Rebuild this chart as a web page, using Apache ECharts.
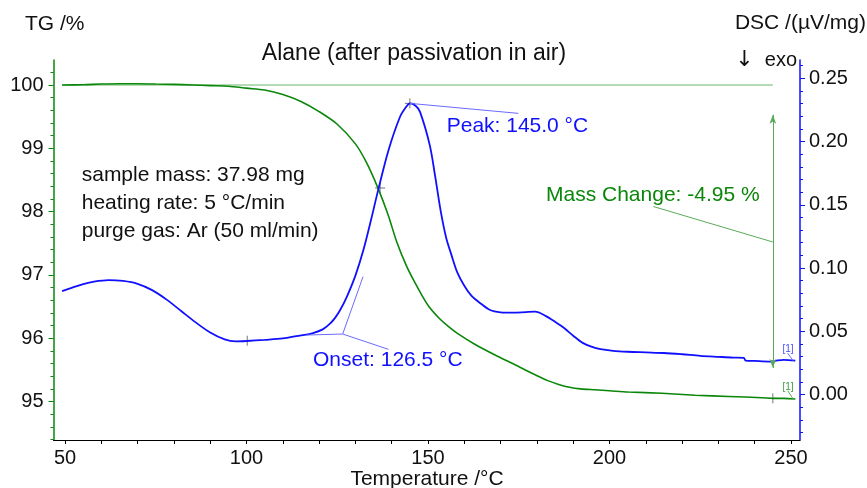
<!DOCTYPE html>
<html><head><meta charset="utf-8">
<script src="https://cdn.jsdelivr.net/npm/echarts@6/dist/echarts.min.js"></script>
<style>html,body{margin:0;padding:0;background:#fff}#c{width:867px;height:488px}</style>
</head><body><div id="c"></div>
<script>
// ---- data ----
const tgT = [49.2,55,60,65,70,75,80,85,90,95,100,105,110,115,120,125,130,133,136.3,139,141.4,144,146,148.3,150.5,153,155.5,158,163,169.3,174,178.5,183,186,189,192,196,200,205.2,214.4,223.6,232.8,242,245,248,251.2];
const tgV = [100.00,100.005,100.015,100.02,100.02,100.015,100.01,100.00,99.99,99.98,99.95,99.92,99.85,99.74,99.58,99.38,99.07,98.78,98.36,97.95,97.52,97.15,96.92,96.68,96.48,96.32,96.19,96.08,95.90,95.71,95.58,95.45,95.33,95.27,95.225,95.20,95.185,95.17,95.15,95.13,95.10,95.08,95.06,95.05,95.05,95.04];

const dscT = [49.2,52,55,58,62,66,70,74,78,82,86,90,94,97,100,105,110,114.7,118.3,121,123,124.5,125.8,127.6,130,132.2,134.3,136.3,139.1,142.3,144,145,146.5,147.8,150.5,152,153.5,155,156.5,158,160,162,164.5,167.1,170,173.5,177,179.5,182.5,185,187.5,190,192.5,195,197.5,201,205,210,215,220,225,230,234,237,237.5,240,244,246,248,251.2];
const dscV = [0.0818,0.0845,0.0873,0.0893,0.0905,0.0898,0.0875,0.0825,0.0750,0.0660,0.0570,0.0490,0.0435,0.0420,0.0423,0.0432,0.0443,0.0466,0.0486,0.0515,0.0560,0.0610,0.0668,0.0770,0.0940,0.1142,0.1380,0.1620,0.1930,0.2196,0.2275,0.2302,0.2285,0.2235,0.1970,0.1720,0.1450,0.1240,0.1100,0.0970,0.0860,0.0780,0.0720,0.0668,0.0650,0.0647,0.0652,0.0655,0.0620,0.0575,0.0525,0.0465,0.0410,0.0378,0.0358,0.0345,0.0338,0.0333,0.0328,0.0318,0.0306,0.0298,0.0292,0.0290,0.0268,0.0265,0.0260,0.0268,0.0273,0.0267];

const xTickLabels = [50,100,150,200,250];
const tgTickLabels = [95,96,97,98,99,100];
const dscTickLabels = [0.00,0.05,0.10,0.15,0.20,0.25];

// annotation values
const onsetT = 126.5, onsetV = 0.0478;
const onsetBaseline = [116.6,0.0470];
const onsetTangent = [132.1,0.0931];
const onsetLeaderEnd = [139.1,0.0357];
const peakT = 145.0, peakV = 0.2302;
const peakLeaderEnd = [174.9,0.2223];
const massStartT = 49.2, massEndT = 245.0, massRef = 100, massEnd = 95.05;
const massArrowTop = 99.53, massArrowBottom = 95.53;
const massLeader = [[212.1,98.08],[245.0,97.52]];
const dscMarks = [[100.2,0.0425],[136.8,0.1633],[145.0,0.2302]];
const tgMarks = [[245.0,95.05]];

// tick positions (minor)
const xMinor = []; for (let v = 50; v <= 250; v += 10) xMinor.push(v);
const tgMinor = []; for (let i = 0; i <= 30; i++) { const v = +(94.4 + i*0.2).toFixed(1); if (v <= 100.39 && v >= 94.4) tgMinor.push(v); }
const dscMinor = []; for (let i = -3; i <= 26; i++) dscMinor.push(+(i*0.01).toFixed(2));

const F = 'Liberation Sans, Arial, sans-serif';
const GREEN = '#0a870a', BLUE = '#1010ff';
const cross = 'path://M0,5L10,5M5,0L5,10';

const chart = echarts.init(document.getElementById('c'), null, {renderer:'canvas'});
const zip = (a,b) => a.map((t,i)=>[t,b[i]]);

chart.setOption({
  animation:false,
  grid:{left:53.5, right:67, top:60, bottom:48},
  xAxis:[{type:'value', min:46.83, max:252.48,
    axisLine:{onZero:false, lineStyle:{color:'#000', width:1}},
    axisTick:{customValues:xMinor, length:4, lineStyle:{color:'#000'}},
    axisLabel:{customValues:xTickLabels, fontSize:20, color:'#111', margin:8, fontFamily:F},
    splitLine:{show:false}}],
  yAxis:[
    {type:'value', position:'left', min:94.392, max:100.395,
     axisLine:{show:true, onZero:false, lineStyle:{color:GREEN, width:1.5}},
     axisTick:{customValues:tgTickLabels, length:5, lineStyle:{color:GREEN}},
     axisLabel:{customValues:tgTickLabels, fontSize:20, color:'#111', margin:10, fontFamily:F},
     splitLine:{show:false}},
    {type:'value', position:'right', min:-0.036, max:0.2645,
     axisLine:{show:true, onZero:false, lineStyle:{color:BLUE, width:1.5}},
     axisTick:{customValues:dscTickLabels, length:5, lineStyle:{color:BLUE}},
     axisLabel:{customValues:dscTickLabels, fontSize:20, color:'#111', margin:9, fontFamily:F,
       formatter:v=>v.toFixed(2)},
     splitLine:{show:false}},
    {type:'value', position:'left', min:94.392, max:100.395,
     axisLine:{show:false}, axisLabel:{show:false}, splitLine:{show:false},
     axisTick:{customValues:tgMinor, length:3, lineStyle:{color:GREEN}}},
    {type:'value', position:'right', min:-0.036, max:0.2645,
     axisLine:{show:false}, axisLabel:{show:false}, splitLine:{show:false},
     axisTick:{customValues:dscMinor, length:3, lineStyle:{color:BLUE}}}
  ],
  series:[
    {type:'line', name:'TG ref', yAxisIndex:0, symbol:'none', silent:true,
     data:[[massStartT,massRef],[massEndT,massRef]],
     lineStyle:{color:'#6cb86c', width:1},
     markLine:{silent:true, symbol:['arrow','arrow'], symbolSize:[5,9], label:{show:false},
       lineStyle:{color:'#5aaa5a', width:1, type:'solid'},
       data:[[{coord:[massEndT,massArrowTop]},{coord:[massEndT,massArrowBottom]}]]}},
    {type:'line', name:'mass leader', yAxisIndex:0, symbol:'none', silent:true,
     data:massLeader, lineStyle:{color:'#5aaa5a', width:1}},
    {type:'line', name:'TG', yAxisIndex:0, symbol:'none', smooth:0.3,
     data:zip(tgT,tgV), lineStyle:{color:GREEN, width:1.6}},
    {type:'line', name:'DSC', yAxisIndex:1, symbol:'none', smooth:0.3,
     data:zip(dscT,dscV), lineStyle:{color:BLUE, width:1.8}},
    {type:'line', name:'onset lines', yAxisIndex:1, symbol:'none', silent:true,
     data:[onsetBaseline,[onsetT,onsetV],onsetTangent], lineStyle:{color:'#6a6aff', width:1}},
    {type:'line', name:'onset leader', yAxisIndex:1, symbol:'none', silent:true,
     data:[[onsetT,onsetV],onsetLeaderEnd], lineStyle:{color:'#6a6aff', width:1}},
    {type:'line', name:'peak leader', yAxisIndex:1, symbol:'none', silent:true,
     data:[[peakT,peakV],peakLeaderEnd], lineStyle:{color:'#6a6aff', width:1}},
    {type:'line', name:'dsc end tag', yAxisIndex:1, symbol:'none', silent:true,
     data:[[249.1,0.0326],[250.6,0.0267]], lineStyle:{color:'#6a6aff', width:1}},
    {type:'line', name:'tg end tag', yAxisIndex:0, symbol:'none', silent:true,
     data:[[249.1,95.17],[250.6,95.04]], lineStyle:{color:'#5aaa5a', width:1}},
    {type:'scatter', yAxisIndex:1, symbol:cross, symbolSize:10, silent:true,
     data:dscMarks, itemStyle:{color:'none', borderColor:'#555', borderWidth:1}},
    {type:'scatter', yAxisIndex:0, symbol:cross, symbolSize:10, silent:true,
     data:tgMarks, itemStyle:{color:'none', borderColor:'#555', borderWidth:1}}
  ],
  graphic:[
    {type:'text', left:25, top:14, style:{text:'TG /%', fontSize:21, fontFamily:F, fill:'#111'}},
    {type:'text', x:866, y:23, style:{text:'DSC /(µV/mg)', fontSize:21, fontFamily:F, fill:'#111', align:'right', verticalAlign:'middle'}},
    {type:'text', x:797, y:60, style:{text:'{a|↓}  exo', fontSize:20, fontFamily:F, fill:'#111', align:'right', verticalAlign:'middle',
      rich:{a:{fontSize:22, fontFamily:'DejaVu Sans', fill:'#111'}}}},
    {type:'text', x:414, y:54, style:{text:'Alane (after passivation in air)', fontSize:23, fontFamily:F, fill:'#111', align:'center', verticalAlign:'middle'}},
    {type:'text', x:81.7, y:175, style:{text:'sample mass: 37.98 mg', fontSize:21, fontFamily:F, fill:'#111', verticalAlign:'middle'}},
    {type:'text', x:81.7, y:203, style:{text:'heating rate: 5 °C/min', fontSize:21, fontFamily:F, fill:'#111', verticalAlign:'middle'}},
    {type:'text', x:81.7, y:231, style:{text:'purge gas: Ar (50 ml/min)', fontSize:21, fontFamily:F, fill:'#111', verticalAlign:'middle'}},
    {type:'text', x:446.7, y:126, style:{text:'Peak: 145.0 °C', fontSize:21, fontFamily:F, fill:BLUE, verticalAlign:'middle'}},
    {type:'text', x:313, y:360, style:{text:'Onset: 126.5 °C', fontSize:21, fontFamily:F, fill:BLUE, verticalAlign:'middle'}},
    {type:'text', x:546, y:195, style:{text:'Mass Change: -4.95 %', fontSize:21, fontFamily:F, fill:GREEN, verticalAlign:'middle'}},
    {type:'text', x:427, y:479, style:{text:'Temperature /°C', fontSize:21, fontFamily:F, fill:'#111', align:'center', verticalAlign:'middle'}},
    {type:'text', x:788, y:349, style:{text:'[1]', fontSize:10, fontFamily:F, fill:'#4a4aff', align:'center', verticalAlign:'middle'}},
    {type:'text', x:788, y:387, style:{text:'[1]', fontSize:10, fontFamily:F, fill:'#3a9a3a', align:'center', verticalAlign:'middle'}}
  ]
});
</script>
</body></html>
